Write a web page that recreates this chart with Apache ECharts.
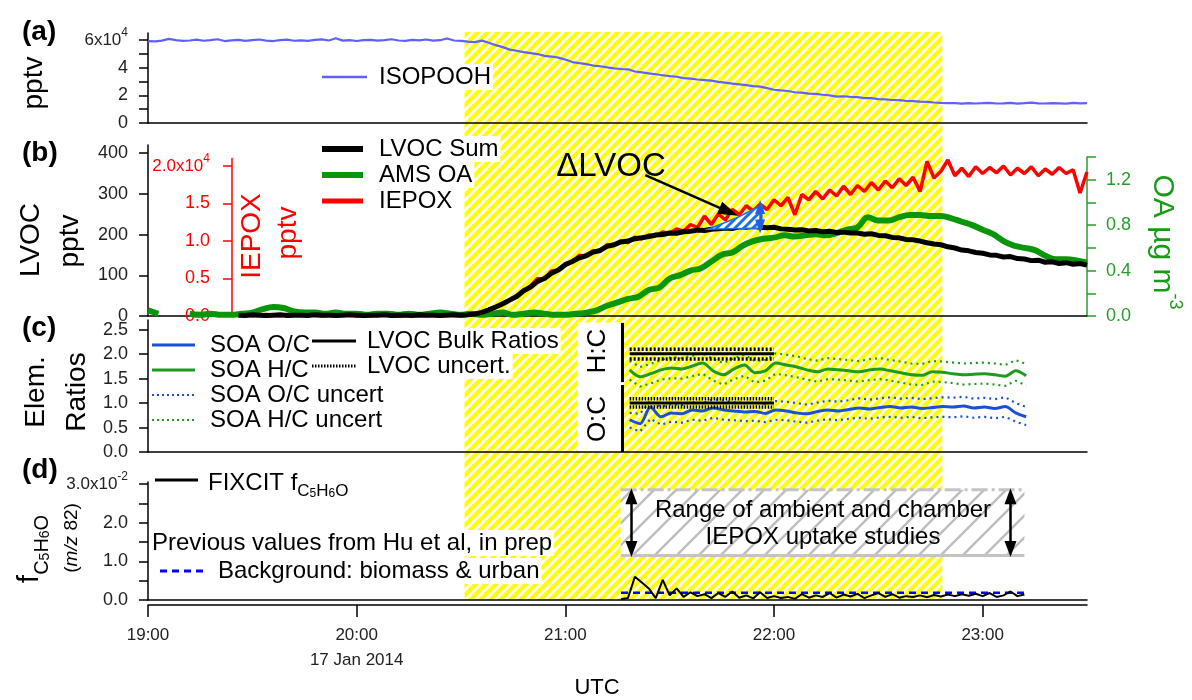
<!DOCTYPE html>
<html><head><meta charset="utf-8">
<script src="https://cdn.jsdelivr.net/npm/echarts@6/dist/echarts.min.js"></script>
<style>html,body{margin:0;padding:0;background:#fff}#c{width:1192px;height:700px}</style>
</head><body><div id="c"></div>
<script>
// ================= DATA (time = minutes after 19:00 UTC, 17 Jan 2014) =================
const xTickMinutes = [0, 60, 120, 180, 240];
const xTickLabels = ['19:00', '20:00', '21:00', '22:00', '23:00'];
const dateLabel = '17 Jan 2014';
const hatchPeriod = [91, 228.4];

// (a) ISOPOOH, units of 1e4 pptv, every 2 min from 19:00
const isopoohStart = 0, isopoohStep = 2;
const isopooh = [
 5.92,5.90,5.95,6.08,5.98,5.93,5.96,6.02,5.94,5.99,
 6.05,5.92,5.97,6.00,5.93,5.98,6.03,5.95,5.92,5.99,
 6.02,5.94,5.97,5.93,6.00,6.04,5.96,6.12,5.95,5.98,
 5.92,5.99,6.01,5.95,5.98,6.05,5.96,5.93,6.00,5.97,
 6.03,5.95,5.98,6.10,5.96,5.93,5.88,5.84,5.95,5.80,
 5.62,5.48,5.30,5.22,5.12,5.05,4.98,4.85,4.80,4.72,
 4.58,4.40,4.32,4.25,4.15,4.10,4.02,3.95,3.90,3.88,
 3.72,3.66,3.58,3.52,3.45,3.38,3.34,3.24,3.21,3.14,
 3.10,3.06,2.97,2.91,2.84,2.79,2.74,2.66,2.63,2.52,
 2.40,2.35,2.31,2.22,2.19,2.12,2.10,2.04,1.99,1.91,
 1.93,1.89,1.87,1.80,1.79,1.73,1.70,1.66,1.65,1.60,
 1.58,1.54,1.53,1.48,1.45,1.43,1.44,1.40,1.43,1.41,
 1.43,1.46,1.41,1.42,1.45,1.40,1.43,1.47,1.42,1.41,
 1.44,1.42,1.40,1.45,1.42,1.44];

// (b) LVOC sum (pptv), every 2 min from 19:26
const lvocStart = 26, lvocStep = 2;
const lvoc = [
 2,1,3,2,1,2,3,1,2,2,
 1,3,2,2,1,2,3,2,1,2,
 2,3,1,2,2,1,3,2,2,1,
 2,3,2,3,5,9,15,22,30,39,
 48,62,71,85,92,105,113,126,134,143,
 148,157,161,171,175,182,184,190,192,195,
 199,200,204,203,207,208,211,210,213,214,
 216,215,219,218,220,218,217,218,214,213,
 211,212,209,210,207,208,205,206,204,204,
 201,202,198,197,193,192,188,187,184,180,
 177,175,170,167,162,160,156,154,150,149,
 145,146,141,140,136,137,132,133,129,131,
 127,129,125];

// (b) IEPOX, units of 1e4 pptv, every 2 min from 19:26
const iepoxStart = 26, iepoxStep = 2;
const iepox = [
 0.01,0.02,0.00,0.01,0.02,0.01,0.00,0.02,0.01,0.01,
 0.02,0.01,0.00,0.01,0.02,0.01,0.01,0.00,0.02,0.01,
 0.01,0.02,0.01,0.00,0.01,0.02,0.01,0.01,0.02,0.01,
 0.01,0.02,0.01,0.02,0.03,0.05,0.09,0.12,0.17,0.21,
 0.27,0.33,0.40,0.50,0.49,0.60,0.61,0.70,0.72,0.81,
 0.80,0.87,0.86,0.95,0.94,1.00,0.98,1.05,1.03,1.08,
 1.07,1.12,1.10,1.16,1.13,1.22,1.18,1.33,1.22,1.36,
 1.28,1.42,1.35,1.47,1.40,1.49,1.42,1.55,1.47,1.58,
 1.35,1.62,1.55,1.66,1.56,1.68,1.60,1.73,1.62,1.74,
 1.66,1.78,1.68,1.80,1.71,1.83,1.74,1.85,1.66,2.06,
 1.84,1.93,2.08,1.87,1.97,1.86,1.99,1.90,1.98,1.91,
 2.00,1.88,1.97,1.90,1.99,1.87,1.96,1.89,1.98,1.90,
 1.95,1.64,1.92];

// (b) AMS OA (ug m-3), every 3 min from 19:00
const oaStart = 0, oaStep = 3;
const oa = [
 0.05,0.02,null,null,0.02,0.01,0.02,0.01,0.01,0.02,
 0.03,0.06,0.08,0.07,0.04,0.03,0.03,0.02,0.03,0.02,
 0.02,0.01,0.02,0.02,0.01,0.02,0.01,0.02,0.03,0.02,
 0.01,0.02,0.01,0.02,0.03,0.01,0.02,0.03,0.02,0.01,
 0.01,0.02,0.03,0.05,0.09,0.12,0.15,0.17,0.23,0.25,
 0.33,0.36,0.40,0.42,0.48,0.54,0.56,0.62,0.66,0.68,
 0.69,0.71,0.70,0.71,0.72,0.71,0.73,0.76,0.78,0.87,
 0.84,0.84,0.87,0.89,0.89,0.88,0.88,0.86,0.83,0.80,
 0.76,0.72,0.66,0.62,0.60,0.58,0.53,0.50,0.50,0.49,
 0.47];

// (c) elemental ratios, every 3 min from 21:18.5
const ratioStart = 138.5, ratioStep = 3;
const soaOC = [0.66,0.58,0.92,0.72,0.80,0.78,0.86,0.84,0.90,0.86,
 0.84,0.82,0.83,0.79,0.86,0.84,0.80,0.78,0.83,0.86,
 0.84,0.87,0.90,0.88,0.91,0.93,0.90,0.92,0.89,0.91,
 0.93,0.92,0.94,0.90,0.92,0.89,0.93,0.80,0.72];
const soaOCHi = [0.80,0.78,1.05,0.92,0.98,0.96,1.02,1.00,1.08,1.05,
 1.02,1.00,1.01,0.98,1.04,1.03,1.00,0.97,1.01,1.05,
 1.03,1.06,1.10,1.07,1.10,1.12,1.09,1.11,1.08,1.10,
 1.12,1.11,1.13,1.09,1.11,1.08,1.12,1.00,0.92];
const soaOCLo = [0.50,0.42,0.68,0.56,0.62,0.60,0.66,0.64,0.70,0.66,
 0.65,0.63,0.64,0.61,0.66,0.65,0.62,0.60,0.64,0.67,
 0.65,0.68,0.70,0.68,0.71,0.72,0.70,0.72,0.69,0.71,
 0.72,0.71,0.73,0.70,0.72,0.69,0.72,0.62,0.55];
const soaHC = [1.68,1.54,1.60,1.68,1.72,1.70,1.76,1.82,1.66,1.58,
 1.70,1.78,1.62,1.66,1.82,1.78,1.74,1.68,1.64,1.70,
 1.68,1.66,1.64,1.68,1.70,1.66,1.62,1.58,1.57,1.64,
 1.63,1.60,1.58,1.59,1.60,1.58,1.55,1.66,1.56];
const soaHCHi = [1.86,1.74,1.80,1.88,1.94,1.92,1.97,2.02,1.90,1.82,
 1.92,1.99,1.86,1.88,2.02,1.99,1.96,1.90,1.87,1.92,
 1.90,1.88,1.86,1.90,1.92,1.88,1.85,1.81,1.80,1.86,
 1.85,1.83,1.81,1.82,1.83,1.81,1.78,1.88,1.80];
const soaHCLo = [1.48,1.34,1.40,1.48,1.51,1.50,1.55,1.60,1.46,1.38,
 1.49,1.56,1.42,1.46,1.60,1.57,1.53,1.48,1.44,1.49,
 1.48,1.46,1.44,1.47,1.49,1.46,1.42,1.38,1.37,1.44,
 1.43,1.41,1.38,1.39,1.40,1.38,1.35,1.46,1.36];
const lvocRatioTimes = [138.5, 180];
const lvocHC = [2.01, 2.01], lvocHCHi = [2.10, 2.10], lvocHCLo = [1.90, 1.90];
const lvocOC = [1.00, 1.00], lvocOCHi = [1.09, 1.09], lvocOCLo = [0.92, 0.92];

// (d) FIXCIT f_C5H6O, units of 1e-2, every 2 min from 21:16
const f82Start = 136, f82Step = 2;
const f82 = [0.02,0.05,0.60,0.45,0.30,0.05,0.52,0.12,0.30,0.08,
 0.20,0.10,0.15,0.05,0.18,0.08,0.22,0.06,0.12,0.04,
 0.20,0.05,0.10,0.05,0.08,0.03,0.15,0.06,0.12,0.08,
 0.18,0.06,0.14,0.09,0.16,0.05,0.12,0.18,0.08,0.15,
 0.06,0.10,0.08,0.12,0.07,0.13,0.09,0.14,0.10,0.15,
 0.11,0.16,0.10,0.18,0.08,0.12,0.22,0.10,0.14];
const bgTimes = [136, 252], bgF82 = [0.19, 0.19];
const rangeTimes = [135.9, 252], rangeF82 = [1.15, 2.85];

// annotations (data coordinates)
const deltaPoly = [[161, 213], [169, 240], [176.5, 272], [176.5, 216]];
const deltaArrow = [[143, 346], [167, 256]];
const deltaSpan = [[176, 220], [176, 268]];
const hcBox = {t0: 123.6, t1: 136.6, top: 2.65};
const ratioBars = [[[136.3, 2.64], [136.3, 1.43]], [[136.3, 1.37], [136.3, 0]]];
const rangeArrowT = [139, 248], rangeArrowV = [1.32, 2.68];

// ================= CHART =================
const F = '"Liberation Sans", Arial, Helvetica, sans-serif';
function pairs(start, step, vals) { return vals.map((v, i) => [start + i * step, v]); }
function pairsT(ts, vals) { return vals.map((v, i) => [ts[i], v]); }
function hatch(fg, bg, p, lw) {
  const c = document.createElement('canvas'); c.width = c.height = p;
  const g = c.getContext('2d'); g.fillStyle = bg; g.fillRect(0, 0, p, p);
  g.strokeStyle = fg; g.lineWidth = lw;
  for (let k = -1; k <= 1; k++) { g.beginPath(); g.moveTo(k * p - 1, p + 1); g.lineTo(k * p + p + 1, -1); g.stroke(); }
  return c;
}
const yellowHatch = hatch('#ffff00', '#ffffff', 10, 4.3);
const grayHatch = hatch('#bdbdbd', '#ffffff', 22, 2.4);
const blueHatch = hatch('#1f6fe6', '#ffffff', 9, 3);

const LEFT = 148, RIGHT = 105;
const grids = [
  {left: LEFT, right: RIGHT, top: 32, bottom: 100},   // 0 hatch
  {left: LEFT, right: RIGHT, top: 33, bottom: 577},   // 1 (a)
  {left: LEFT, right: RIGHT, top: 145, bottom: 384},  // 2 (b) LVOC
  {left: LEFT, right: RIGHT, top: 158.5, bottom: 384},// 3 (b) IEPOX
  {left: LEFT, right: RIGHT, top: 157, bottom: 384},  // 4 (b) OA
  {left: LEFT, right: RIGHT, top: 320, bottom: 248},  // 5 (c)
  {left: LEFT, right: RIGHT, top: 482, bottom: 100}   // 6 (d)
];
const AX = {color: '#000', width: 1.5};
function xA(grid, show) {
  return {type: 'value', gridIndex: grid, min: 0, max: 270, show: show, z: 1.5,
    axisLabel: {show: false}, axisTick: {show: false}, splitLine: {show: false},
    axisLine: {show: true, onZero: false, lineStyle: AX}};
}
function yA(grid, max, ticks, labels, fmt, color, extra, margin) {
  color = color || '#000';
  const lc = color === '#000' ? '#222' : color;
  return Object.assign({type: 'value', gridIndex: grid, min: 0, max: max, z: 1.5,
    splitLine: {show: false},
    axisLine: {show: true, onZero: false, lineStyle: {color: color, width: 1.5}},
    axisTick: {show: true, inside: false, length: 9, customValues: ticks, lineStyle: {color: color, width: 1.5}},
    axisLabel: {customValues: labels, formatter: fmt, fontFamily: F, fontSize: 18, color: lc, margin: margin || 20,
      rich: {m: {fontFamily: F, fontSize: 17, color: lc, lineHeight: 26},
             s: {fontFamily: F, fontSize: 12, color: lc, verticalAlign: 'top', lineHeight: 12}}}
  }, extra || {});
}
const xAxes = [xA(0, false), xA(1, true), xA(2, true), xA(3, false), xA(4, false), xA(5, true), xA(6, true),
  {type: 'value', gridIndex: 6, min: 0, max: 270, position: 'bottom', offset: 5, z: 1.5,
   splitLine: {show: false}, axisLine: {show: true, onZero: false, lineStyle: AX},
   axisTick: {show: true, length: 12, customValues: xTickMinutes, lineStyle: AX},
   axisLabel: {customValues: xTickMinutes, fontFamily: F, fontSize: 17, color: '#222', margin: 18, lineHeight: 25,
     formatter: v => { const l = xTickLabels[xTickMinutes.indexOf(v)]; return v === 60 ? l + '\n' + dateLabel : l; }}}];
const yAxes = [
  {type: 'value', gridIndex: 0, min: 0, max: 1, show: false},
  yA(1, 6.5, [0,1,2,3,4,5,6], [0,2,4,6], v => v === 6 ? '{m|6x10}{s|4}' : String(v)),
  yA(2, 420, [0,100,200,300,400], [0,100,200,300,400], v => String(v)),
  yA(3, 2.1, [0,0.5,1,1.5,2], [0,0.5,1,1.5,2], v => v === 2 ? '{m|2.0x10}{s|4}' : v.toFixed(1), '#ff0000', {position: 'left', offset: -84}, 22),
  yA(4, 1.4, [0,0.2,0.4,0.6,0.8,1.0,1.2,1.4], [0,0.4,0.8,1.2], v => v.toFixed(1), '#2b9b2b', {position: 'right'}, 19),
  yA(5, 2.7, [0,0.5,1,1.5,2,2.5], [0,0.5,1,1.5,2,2.5], v => v.toFixed(1)),
  yA(6, 3.05, [0,0.5,1,1.5,2,2.5,3], [0,1,2,3], v => v === 3 ? '{m|3.0x10}{s|-2}' : v.toFixed(1))
];

const LS = {type: 'line', showSymbol: false, symbol: 'none', silent: true, animation: false};
function line(xi, data, color, width, extra, ltype) {
  return Object.assign({}, LS, {xAxisIndex: xi, yAxisIndex: xi, data: data,
    lineStyle: {color: color, width: width, type: ltype || 'solid'}, itemStyle: {color: color}}, extra || {});
}
const noLabel = {show: false};
function ml(pairsList, color, width, sym, symSize) {
  return {silent: true, animation: false, symbol: sym, symbolSize: symSize, label: noLabel,
    lineStyle: {color: color, width: width, type: 'solid'},
    data: pairsList.map(p => [{coord: p[0]}, {coord: p[1]}])};
}

const series = [
  // yellow hatched period
  Object.assign({}, LS, {xAxisIndex: 0, yAxisIndex: 0, data: [[0, 0]], lineStyle: {opacity: 0},
    markArea: {silent: true, z: 1, itemStyle: {color: {image: yellowHatch, repeat: 'repeat'}},
      data: [[{xAxis: hatchPeriod[0]}, {xAxis: hatchPeriod[1]}]]}}),
  // (a)
  line(1, pairs(isopoohStart, isopoohStep, isopooh), '#6060ff', 2.2),
  // (b)
  line(3, pairs(iepoxStart, iepoxStep, iepox), '#ff0000', 3.5, {z: 2}),
  line(4, pairs(oaStart, oaStep, oa), '#0a960a', 6, {z: 3, smooth: 0.4, connectNulls: false}),
  line(2, pairs(lvocStart, lvocStep, lvoc), '#000', 5, {z: 4,
    markLine: ml([deltaArrow], '#000', 2.5, ['none', 'triangle'], [13, 20])}),
  {type: 'custom', xAxisIndex: 2, yAxisIndex: 2, z: 5, silent: true, animation: false, data: [[0, 0]],
    renderItem: (p, api) => ({type: 'polygon', shape: {points: deltaPoly.map(q => api.coord(q))},
      style: {fill: {image: blueHatch, repeat: 'repeat'}, stroke: '#1f6fe6', lineWidth: 1.5}})},
  Object.assign({}, LS, {xAxisIndex: 2, yAxisIndex: 2, data: [], z: 6,
    markLine: Object.assign(ml([deltaSpan], '#1f5fe6', 2.5, ['triangle', 'triangle'], [10, 14]), {z: 6})}),
  // (c)
  {type: 'custom', xAxisIndex: 5, yAxisIndex: 5, z: 1.2, silent: true, animation: false, data: [[0, 0]],
    renderItem: (p, api) => { const a = api.coord([hcBox.t0, hcBox.top]), b = api.coord([hcBox.t1, 0]);
      return {type: 'rect', shape: {x: a[0], y: a[1], width: b[0] - a[0], height: b[1] - a[1]}, style: {fill: '#fff'}}; }},
  line(5, pairs(ratioStart, ratioStep, soaOCHi), '#1a4fd8', 2.2, {}, [2, 4]),
  line(5, pairs(ratioStart, ratioStep, soaOCLo), '#1a4fd8', 2.2, {}, [2, 4]),
  line(5, pairs(ratioStart, ratioStep, soaHCHi), '#1e9a1e', 2.2, {}, [2, 4]),
  line(5, pairs(ratioStart, ratioStep, soaHCLo), '#1e9a1e', 2.2, {}, [2, 4]),
  line(5, pairs(ratioStart, ratioStep, soaOC), '#1a4fd8', 3, {smooth: 0.3,
    markLine: ml(ratioBars, '#000', 3, ['none', 'none'], 0)}),
  line(5, pairs(ratioStart, ratioStep, soaHC), '#1e9a1e', 3, {smooth: 0.3}),
  line(5, pairsT(lvocRatioTimes, lvocHCHi), '#000', 3.5, {z: 4}, [2, 2]),
  line(5, pairsT(lvocRatioTimes, lvocHCLo), '#000', 3.5, {z: 4}, [2, 2]),
  line(5, pairsT(lvocRatioTimes, lvocOCHi), '#000', 3.5, {z: 4}, [1.5, 1.5]),
  line(5, pairsT(lvocRatioTimes, lvocOCLo), '#000', 3.5, {z: 4}, [1.5, 1.5]),
  line(5, pairsT(lvocRatioTimes, lvocHC), '#000', 3, {z: 4}),
  line(5, pairsT(lvocRatioTimes, lvocOC), '#000', 3, {z: 4}),
  // (d)
  {type: 'custom', xAxisIndex: 6, yAxisIndex: 6, z: 1.2, silent: true, animation: false, data: [[0, 0]],
    renderItem: (p, api) => { const a = api.coord([rangeTimes[0], rangeF82[1]]), b = api.coord([rangeTimes[1], rangeF82[0]]);
      return {type: 'group', children: [
        {type: 'rect', shape: {x: a[0], y: a[1], width: b[0] - a[0], height: b[1] - a[1]}, style: {fill: {image: grayHatch, repeat: 'repeat'}}},
        {type: 'line', shape: {x1: a[0], y1: a[1], x2: b[0], y2: a[1]}, style: {stroke: '#c4c4c4', lineWidth: 3, lineDash: [16, 4, 3, 4]}},
        {type: 'line', shape: {x1: a[0], y1: b[1], x2: b[0], y2: b[1]}, style: {stroke: '#c4c4c4', lineWidth: 3}}]}; }},
  line(6, pairsT(bgTimes, bgF82), '#0000ff', 2.5, {z: 2}, [7, 5]),
  line(6, pairs(f82Start, f82Step, f82), '#000', 2, {z: 3,
    markLine: ml(rangeArrowT.map(t => [[t, rangeArrowV[0]], [t, rangeArrowV[1]]]), '#000', 2.5, ['triangle', 'triangle'], [12, 16])})
];

// ---- text & legend graphics ----
function txt(x, y, text, size, o) {
  o = o || {};
  return {type: 'text', x: x, y: y, z: 100, silent: true, rotation: o.rot || 0,
    style: Object.assign({text: text, fill: o.color || '#000', font: (o.weight || 'normal') + ' ' + size + 'px ' + F,
      align: o.align || 'left', verticalAlign: 'middle'}, o.style || {})};
}
function seg(x1, y1, x2, y2, color, w, dash) {
  return {type: 'line', z: 100, silent: true, shape: {x1: x1, y1: y1, x2: x2, y2: y2}, style: {stroke: color, lineWidth: w, lineDash: dash || null}};
}
const R90 = Math.PI / 2;
const WB = {backgroundColor: '#fff', padding: [1, 2]};
function rs(size, extra) { return Object.assign({fontSize: size, fontFamily: F, fill: '#000'}, extra || {}); }
const gfx = [
  txt(22, 32, '(a)', 28, {weight: 'bold'}),
  txt(22, 153, '(b)', 28, {weight: 'bold'}),
  txt(22, 328, '(c)', 28, {weight: 'bold'}),
  txt(22, 470, '(d)', 28, {weight: 'bold'}),
  txt(34, 83, 'pptv', 28, {rot: R90, align: 'center'}),
  txt(31, 240, 'LVOC', 28, {rot: R90, align: 'center'}),
  txt(70, 241, 'pptv', 28, {rot: R90, align: 'center'}),
  txt(36, 392, 'Elem.', 28, {rot: R90, align: 'center'}),
  txt(77, 392, 'Ratios', 28, {rot: R90, align: 'center'}),
  txt(30, 549, '{f|f}{s|C}{ss|5}{s|H}{ss|6}{s|O}', 28, {rot: R90, align: 'center', style: {rich: {
    f: rs(30, {lineHeight: 44}), s: rs(20, {lineHeight: 20, verticalAlign: 'bottom'}), ss: rs(14, {lineHeight: 14, verticalAlign: 'bottom'})}}}),
  txt(72, 538, '{p|(}{i|m/z}{p| 82)}', 19, {rot: R90, align: 'center', style: {rich: {
    p: rs(19), i: rs(19, {fontStyle: 'italic'})}}}),
  txt(252, 236, 'IEPOX', 28, {rot: R90, align: 'center', color: '#ff0000'}),
  txt(288, 233, 'pptv', 28, {rot: R90, align: 'center', color: '#ff0000'}),
  txt(1162, 242, '{m|OA \u00b5g m}{s|-3}', 30, {rot: -R90, align: 'center', color: '#1a9a1a', style: {rich: {
    m: rs(30, {fill: '#1a9a1a', lineHeight: 44}), s: rs(18, {fill: '#1a9a1a', lineHeight: 14, verticalAlign: 'top'})}}}),
  txt(611, 167, '\u0394LVOC', 33, {align: 'center'}),
  txt(597, 688, 'UTC', 22, {align: 'center'}),
  // legend (a)
  seg(322, 77, 367, 77, '#6060ff', 2.5),
  txt(377, 77, 'ISOPOOH', 24, {style: WB}),
  // legend (b)
  seg(322, 149, 363, 149, '#000', 6), txt(377, 149, 'LVOC Sum', 24, {style: WB}),
  seg(322, 175, 363, 175, '#0a960a', 6), txt(377, 175, 'AMS OA', 24, {style: WB}),
  seg(322, 201, 363, 201, '#ff0000', 5), txt(377, 201, 'IEPOX', 24, {style: WB}),
  // legend (c)
  seg(152, 345, 195, 345, '#1a4fd8', 3), txt(208, 345, 'SOA O/C', 24, {style: WB}),
  seg(152, 370, 195, 370, '#1e9a1e', 3), txt(208, 370, 'SOA H/C', 24, {style: WB}),
  seg(152, 395, 195, 395, '#1a4fd8', 2.2, [2, 3]), txt(208, 395, 'SOA O/C uncert', 24, {style: WB}),
  seg(152, 420, 195, 420, '#1e9a1e', 2.2, [2, 3]), txt(208, 420, 'SOA H/C uncert', 24, {style: WB}),
  seg(312, 341, 356, 341, '#000', 3), txt(365, 341, 'LVOC Bulk Ratios', 24, {style: WB}),
  seg(312, 366, 356, 366, '#000', 3, [1.5, 1.5]), txt(365, 366, 'LVOC uncert.', 24, {style: WB}),
  txt(598, 351, 'H:C', 26, {rot: R90, align: 'center'}),
  txt(598, 419, 'O:C', 26, {rot: R90, align: 'center'}),
  // legend (d)
  seg(155, 480, 198, 480, '#000', 3),
  txt(208, 483, '{t|FIXCIT f}{s|C}{ss|5}{s|H}{ss|6}{s|O}', 24, {style: {rich: {
    t: rs(24, {lineHeight: 34}), s: rs(17, {lineHeight: 18, verticalAlign: 'bottom'}), ss: rs(12, {lineHeight: 12, verticalAlign: 'bottom'})}}}),
  txt(150, 543, 'Previous values from Hu et al, in prep', 24, {style: WB}),
  seg(160, 571, 203, 571, '#0000ff', 3, [7, 5]),
  txt(216, 571, 'Background: biomass & urban', 24, {style: WB}),
  txt(823, 510, 'Range of ambient and chamber', 24, {align: 'center'}),
  txt(823, 537, 'IEPOX uptake studies', 24, {align: 'center'})
];

const chart = echarts.init(document.getElementById('c'), null, {renderer: 'canvas'});
chart.setOption({
  animation: false,
  backgroundColor: '#ffffff',
  textStyle: {fontFamily: F},
  grid: grids,
  xAxis: xAxes,
  yAxis: yAxes,
  series: series,
  graphic: {elements: gfx}
});
</script></body></html>
